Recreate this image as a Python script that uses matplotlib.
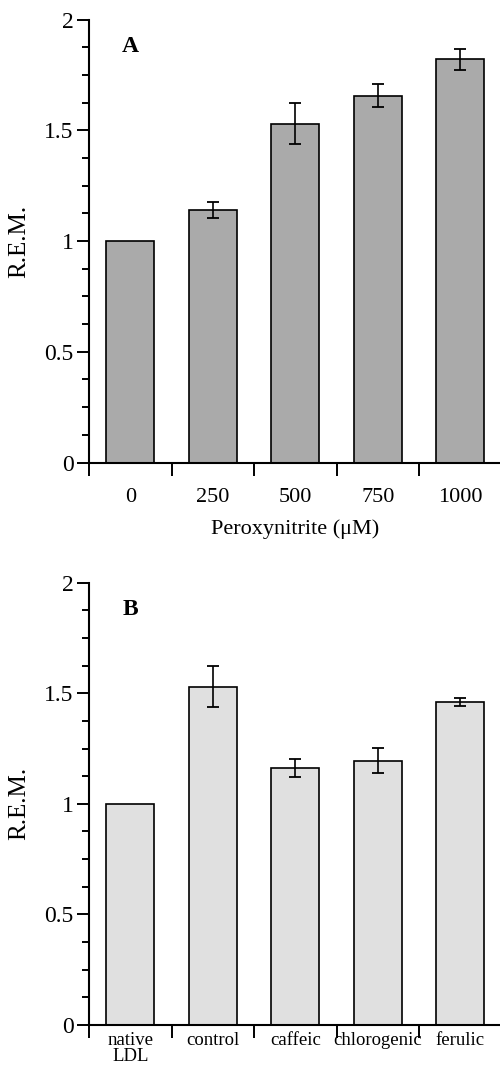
import numpy as np
import matplotlib
matplotlib.use('Agg')
import matplotlib.pyplot as plt
from matplotlib.ticker import MultipleLocator, FixedLocator

plt.rcParams['font.family'] = ['Liberation Serif', 'DejaVu Serif']

#panel A: peroxynitrite dose response
doseLabels = ['0', '250', '500', '750', '1000']
doseMean = [1.0, 1.14, 1.53, 1.655, 1.82]
doseErr = [0.0, 0.037, 0.093, 0.052, 0.048]

#panel B: phenolic acids
acidLabels = ['native\nLDL', 'control', 'caffeic', 'chlorogenic', 'ferulic']
acidMean = [1.0, 1.53, 1.163, 1.195, 1.46]
acidErr = [0.0, 0.093, 0.04, 0.057, 0.018]

fig = plt.figure(figsize=(5, 10.66), dpi=100)
axA = fig.add_axes([0.178, 0.5661, 0.825, 0.4156])
axB = fig.add_axes([0.178, 0.0385, 0.825, 0.4149])


def panel(ax, labels, mean, err, color, letter, labelSize, labelPad):
    x = np.arange(len(mean))
    ax.bar(x, mean, width=0.58, color=color, edgecolor='black', linewidth=1.2, zorder=2)
    #no error bar on the reference bar
    ax.errorbar(x[1:], mean[1:], yerr=err[1:], fmt='none', ecolor='black',
                elinewidth=1.2, capsize=4, capthick=1.3, zorder=3)
    ax.set_xlim(-0.5, 4.5)
    ax.set_ylim(0, 2)
    ax.spines['top'].set_visible(False)
    ax.spines['right'].set_visible(False)
    ax.spines['left'].set_linewidth(1.5)
    ax.spines['bottom'].set_linewidth(1.5)
    ax.set_yticks([0, 0.5, 1, 1.5, 2])
    ax.set_yticklabels(['0', '0.5', '1', '1.5', '2'], fontsize=17)
    ax.yaxis.set_minor_locator(MultipleLocator(0.125))
    ax.tick_params(axis='y', which='major', direction='out', length=9, width=1.4, pad=2)
    ax.tick_params(axis='y', which='minor', direction='out', length=5, width=1.4)
    ax.set_xticks(x)
    ax.set_xticklabels(labels, fontsize=labelSize)
    ax.xaxis.set_minor_locator(FixedLocator(np.arange(-0.5, 5, 1)))
    ax.tick_params(axis='x', which='major', length=0, pad=labelPad)
    ax.tick_params(axis='x', which='minor', direction='out', length=9, width=1.4)
    ax.set_ylabel('R.E.M.', fontsize=18, labelpad=10)
    ax.text(0.0, 1.88, letter, fontsize=17, fontweight='bold', ha='center', va='center')


panel(axA, doseLabels, doseMean, doseErr, '#aaaaaa', 'A', 16, 18)
axA.set_xlabel('Peroxynitrite (\u03bcM)', fontsize=16, labelpad=9)
panel(axB, acidLabels, acidMean, acidErr, '#e0e0e0', 'B', 13.5, 5)
for t in axB.get_xticklabels():
    t.set_linespacing(0.95)

fig.savefig('out.png', dpi=100)
